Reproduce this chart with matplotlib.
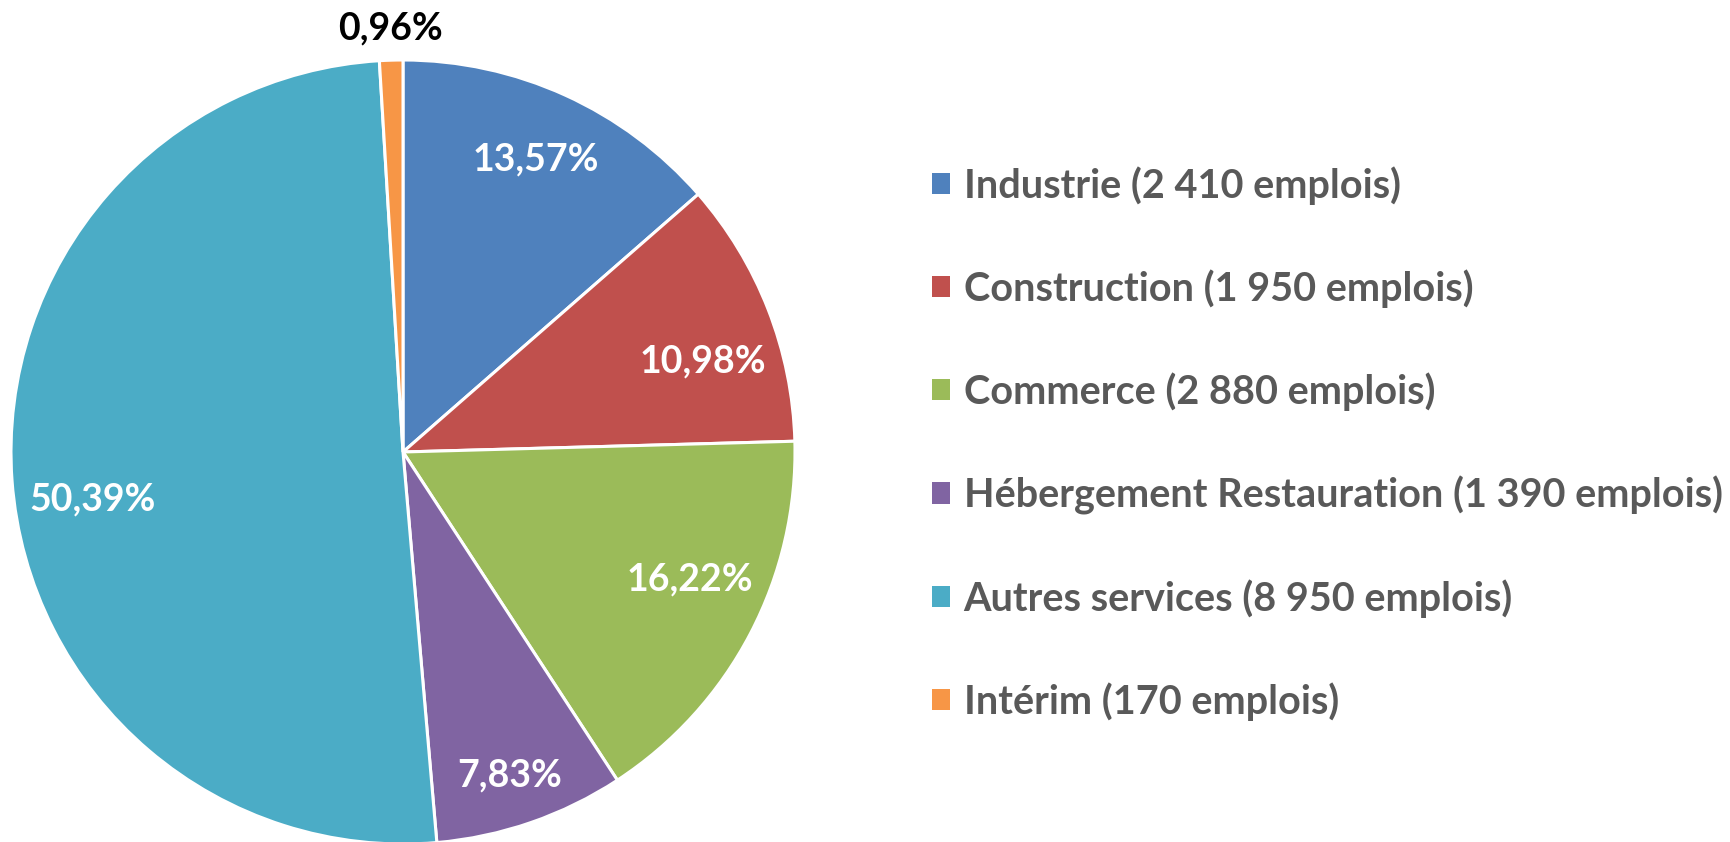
import matplotlib
matplotlib.use("Agg")
import matplotlib.pyplot as plt
import numpy as np

# data
secteurs = ["Industrie", "Construction", "Commerce", "Hébergement Restauration",
            "Autres services", "Intérim"]
emplois = ["2 410", "1 950", "2 880", "1 390", "8 950", "170"]
parts = [13.57, 10.98, 16.22, 7.83, 50.39, 0.96]
part_labels = ["13,57%", "10,98%", "16,22%", "7,83%", "50,39%", "0,96%"]

couleurs = ["#4F81BD", "#C0504D", "#9BBB59", "#8064A2", "#4BACC6", "#F79646"]

plt.rcParams['font.family'] = ['Lato', 'DejaVu Sans']

W, H = 1730, 842
fig = plt.figure(figsize=(W/100, H/100), dpi=100)

# pie axes: centre (403, 452) px, radius 392 px
cx, cy, r = 403, 452, 392
ax = fig.add_axes([(cx - r)/W, (H - cy - r)/H, 2*r/W, 2*r/H])

wedges, _ = ax.pie(parts, colors=couleurs, startangle=90, counterclock=False,
                   radius=1, wedgeprops=dict(edgecolor='white', linewidth=2.2))
ax.set_xlim(-1, 1)
ax.set_ylim(-1, 1)
ax.set_aspect('equal')
ax.axis('off')

# label radius / angle nudge per slice (last one sits outside the pie)
label_r = [0.82, 0.80, 0.80, 0.87, 0.80, 1.08]
label_da = [0, -4.5, 3.7, -0.8, 4.5, 0]
for w, lab, rr, da in zip(wedges, part_labels, label_r, label_da):
    ang = np.deg2rad((w.theta1 + w.theta2) / 2 + da)
    col = 'black' if rr > 1 else 'white'
    ax.text(rr*np.cos(ang), rr*np.sin(ang), lab, ha='center', va='center',
            fontsize=27, fontweight='bold', color=col, clip_on=False)

leg_labels = [f"{s} ({e} emplois)" for s, e in zip(secteurs, emplois)]
leg = fig.legend(wedges, leg_labels, loc='upper left',
                 bbox_to_anchor=(932/W, 1 - 166/H), frameon=False,
                 borderpad=0, borderaxespad=0, handlelength=0.45, handleheight=0.45,
                 handletextpad=0.35, labelspacing=1.63,
                 prop=dict(size=28.5, weight='bold'))
for t in leg.get_texts():
    t.set_color('#595959')
for h in leg.legend_handles:
    h.set_edgecolor('none')

fig.savefig("out.png", dpi=100)
